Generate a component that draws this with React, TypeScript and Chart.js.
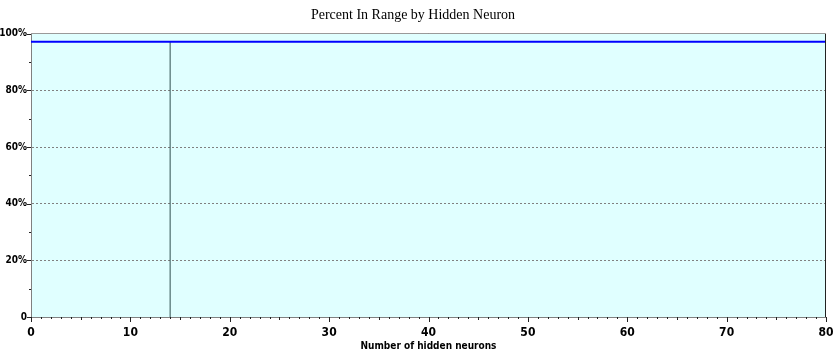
import React, { useEffect, useRef } from "react";
import { Chart, registerables } from "chart.js";

Chart.register(...registerables);

const chartTitle = "Percent In Range by Hidden Neuron";
const xAxisTitle = "Number of hidden neurons";
const hiddenNeurons = [0, 80];
const percentInRange = [97.2, 97.2];
const selectedNeurons = 14;
const xTickValues = [0, 10, 20, 30, 40, 50, 60, 70, 80];
const yTickValues = [0, 20, 40, 60, 80, 100];

const narrowFont = "'Liberation Sans Narrow', 'DejaVu Sans Condensed', 'Arial Narrow', sans-serif";

const bgPlugin = {
  id: "bgFill",
  beforeDraw(chart: any) {
    const { ctx, chartArea } = chart;
    ctx.save();
    ctx.fillStyle = "#E0FFFF";
    ctx.fillRect(chartArea.left, chartArea.top, chartArea.right - chartArea.left, chartArea.bottom - chartArea.top);
    ctx.restore();
  },
};

const ticksPlugin = {
  id: "minorTicks",
  afterDraw(chart: any) {
    const { ctx, chartArea, scales } = chart;
    const xs = scales.x;
    const ys = scales.y;
    ctx.save();
    ctx.strokeStyle = "#222";
    ctx.lineWidth = 1;
    // right border
    ctx.beginPath();
    ctx.moveTo(Math.round(chartArea.right) - 0.5, chartArea.top);
    ctx.lineTo(Math.round(chartArea.right) - 0.5, chartArea.bottom);
    ctx.stroke();
    // top band
    ctx.strokeStyle = "#9a9a9a";
    ctx.beginPath();
    ctx.moveTo(chartArea.left, Math.round(chartArea.top) - 0.5);
    ctx.lineTo(chartArea.right, Math.round(chartArea.top) - 0.5);
    ctx.stroke();
    ctx.strokeStyle = "#222";
    // x ticks
    for (let v = 0; v <= 80; v++) {
      const px = Math.round(xs.getPixelForValue(v)) + 0.5;
      const len = v % 10 === 0 ? 5 : v % 5 === 0 ? 3 : 2;
      ctx.beginPath();
      ctx.moveTo(px, chartArea.bottom);
      ctx.lineTo(px, chartArea.bottom + len);
      ctx.stroke();
    }
    // y ticks
    for (let v = 0; v <= 100; v += 10) {
      const py = Math.round(ys.getPixelForValue(v)) + 0.5;
      const len = v % 20 === 0 ? 4 : 2;
      ctx.beginPath();
      ctx.moveTo(chartArea.left, py);
      ctx.lineTo(chartArea.left - len, py);
      ctx.stroke();
    }
    ctx.restore();
  },
};

export default function App() {
  const canvasRef = useRef<HTMLCanvasElement | null>(null);

  useEffect(() => {
    document.body.style.margin = "0";
    const canvas = canvasRef.current;
    if (!canvas) return;
    const chart = new Chart(canvas, {
      type: "scatter",
      data: {
        datasets: [
          {
            label: "Percent In Range",
            data: hiddenNeurons.map((x, i) => ({ x, y: percentInRange[i] })),
            showLine: true,
            borderColor: "#0000FF",
            borderWidth: 2,
            pointRadius: 0,
          },
          {
            label: "Selected",
            data: [
              { x: selectedNeurons, y: 0 },
              { x: selectedNeurons, y: percentInRange[0] },
            ],
            showLine: true,
            borderColor: "#2F4F4F",
            borderWidth: 1,
            pointRadius: 0,
          },
        ],
      },
      plugins: [bgPlugin, ticksPlugin],
      options: {
        animation: false,
        responsive: false,
        maintainAspectRatio: false,
        layout: { padding: { left: 0, right: 9, top: 0, bottom: 0 } },
        plugins: {
          legend: { display: false },
          tooltip: { enabled: false },
          title: {
            display: true,
            text: chartTitle,
            color: "#000",
            font: { family: "'Liberation Serif', 'Times New Roman', serif", size: 14, weight: "normal" },
            padding: { top: 7, bottom: 10 },
          },
        },
        scales: {
          x: {
            type: "linear",
            min: 0,
            max: 80,
            afterBuildTicks(scale: any) {
              scale.ticks = xTickValues.map((v) => ({ value: v }));
            },
            afterFit(scale: any) {
              scale.height = 38;
              scale.paddingLeft = 0;
              scale.paddingRight = 0;
            },
            grid: { drawOnChartArea: false, drawTicks: false },
            border: { display: true, color: "#808080", dash: [2, 2], width: 1 },
            ticks: {
              color: "#000",
              padding: 9,
              maxRotation: 0,
              font: { family: narrowFont, size: 12, weight: "bold" },
              callback: (v: any) => String(v),
            },
            title: {
              display: true,
              text: xAxisTitle,
              color: "#000",
              padding: { top: 0, bottom: 3 },
              font: { family: narrowFont, size: 10, weight: "bold" },
            },
          },
          y: {
            type: "linear",
            min: 0,
            max: 100,
            afterBuildTicks(scale: any) {
              scale.ticks = yTickValues.map((v) => ({ value: v }));
            },
            afterFit(scale: any) {
              scale.width = 31;
              scale.paddingTop = 0;
              scale.paddingBottom = 0;
            },
            grid: { color: "#808080", drawTicks: false, lineWidth: 1 },
            border: { display: true, color: "#808080", dash: [2, 2], width: 1 },
            ticks: {
              color: "#000",
              padding: 4,
              font: { family: narrowFont, size: 10, weight: "bold" },
              callback: (v: any) => (v === 0 ? "0" : v + "%"),
            },
          },
        },
      } as any,
    });
    (chart.options.scales as any).y.grid.borderDash = [2, 2];
    (chart.options.scales as any).y.border.dash = [2, 2];
    chart.update();
    return () => chart.destroy();
  }, []);

  return (
    <div style={{ width: 835, height: 355 }}>
      <canvas ref={canvasRef} width={835} height={355} style={{ width: 835, height: 355 }} />
    </div>
  );
}
